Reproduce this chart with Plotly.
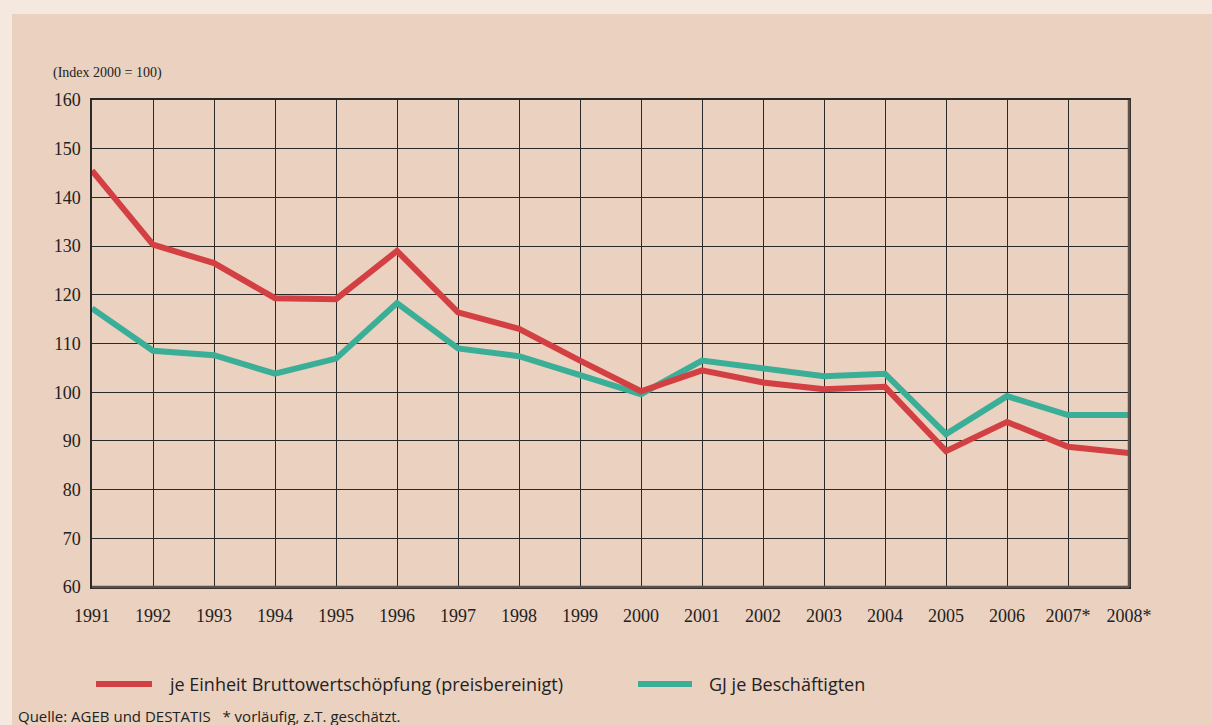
import plotly.graph_objects as go

years = ["1991", "1992", "1993", "1994", "1995", "1996", "1997", "1998", "1999",
         "2000", "2001", "2002", "2003", "2004", "2005", "2006", "2007", "2008"]
tick_labels = ["1991", "1992", "1993", "1994", "1995", "1996", "1997", "1998", "1999",
               "2000", "2001", "2002", "2003", "2004", "2005", "2006", "2007*", "2008*"]
x_vals = list(range(1991, 2009))
bws = [145.5, 130.3, 126.5, 119.3, 119.1, 129.0, 116.4, 113.0, 106.5,
       100.2, 104.5, 102.0, 100.6, 101.1, 87.9, 93.9, 88.8, 87.5]
gj = [117.2, 108.5, 107.6, 103.8, 106.9, 118.3, 109.0, 107.4, 103.5,
      99.6, 106.5, 104.8, 103.3, 103.8, 91.4, 99.2, 95.3, 95.3]
series_names = ["je Einheit Bruttowertschöpfung (preisbereinigt)", "GJ je Beschäftigten"]

RED = "#d34043"
GREEN = "#3aae96"
PANEL = "#ebd1bf"
OUTER = "#f5e8de"

W, H = 1212, 725
L, R, T, B = 92, 1129, 100, 587

def px(x):
    return (x - L) / (R - L)

def py(y):
    return (B - y) / (B - T)

fig = go.Figure()
fig.add_trace(go.Scatter(x=x_vals, y=gj, mode="lines", name=series_names[1],
                         line=dict(color=GREEN, width=6), showlegend=False))
fig.add_trace(go.Scatter(x=x_vals, y=bws, mode="lines", name=series_names[0],
                         line=dict(color=RED, width=6), showlegend=False))

shapes = [
    dict(type="rect", xref="paper", yref="paper", x0=px(-5), x1=px(W + 5), y0=py(14), y1=py(-5),
         fillcolor=OUTER, line=dict(width=0), layer="below"),
    dict(type="rect", xref="paper", yref="paper", x0=px(-5), x1=px(12), y0=py(H + 5), y1=py(-5),
         fillcolor=OUTER, line=dict(width=0), layer="below"),
    dict(type="line", xref="paper", yref="paper", x0=px(96), x1=px(152), y0=py(684), y1=py(684),
         line=dict(color=RED, width=6)),
    dict(type="line", xref="paper", yref="paper", x0=px(638), x1=px(692), y0=py(684), y1=py(684),
         line=dict(color=GREEN, width=6)),
    # heavier grey bottom and right frame edges
    dict(type="line", xref="paper", yref="paper", x0=0, x1=1, y0=0, y1=0,
         line=dict(color="#5f5049", width=2.5)),
    dict(type="line", xref="paper", yref="paper", x0=1, x1=1, y0=0, y1=1,
         line=dict(color="#5f5049", width=2.5)),
]

annotations = [
    dict(text="(Index 2000 = 100)", xref="paper", yref="paper", x=px(51), y=py(73),
         xanchor="left", yanchor="middle", showarrow=False,
         font=dict(family="Liberation Serif", size=14, color="#222")),
    dict(text=series_names[0], xref="paper", yref="paper", x=px(167), y=py(684),
         xanchor="left", yanchor="middle", showarrow=False,
         font=dict(family="Liberation Sans Narrow, Open Sans", size=18, color="#222")),
    dict(text=series_names[1], xref="paper", yref="paper", x=px(707), y=py(684),
         xanchor="left", yanchor="middle", showarrow=False,
         font=dict(family="Liberation Sans Narrow, Open Sans", size=18, color="#222")),
    dict(text="Quelle: AGEB und DESTATIS   * vorläufig, z.T. geschätzt.", xref="paper", yref="paper",
         x=px(16), y=py(716), xanchor="left", yanchor="middle", showarrow=False,
         font=dict(family="Liberation Sans Narrow, Open Sans", size=15, color="#222")),
]

fig.update_layout(
    width=W, height=H,
    margin=dict(l=L, r=W - R, t=T, b=H - B),
    paper_bgcolor=PANEL, plot_bgcolor=PANEL,
    shapes=shapes, annotations=annotations,
    showlegend=False,
    xaxis=dict(range=[1991, 2008], tickmode="array", tickvals=x_vals, ticktext=tick_labels,
               showgrid=True, gridcolor="#2a2a2a", gridwidth=1, zeroline=False,
               showline=True, linecolor="#2a2a2a", linewidth=1.5, mirror=True,
               ticks="", tickfont=dict(family="Liberation Serif", size=18, color="#222"),
               ticklabelstandoff=12),
    yaxis=dict(range=[60, 160], tickmode="array", tickvals=list(range(60, 161, 10)),
               showgrid=True, gridcolor="#2a2a2a", gridwidth=1, zeroline=False,
               showline=True, linecolor="#2a2a2a", linewidth=1.5, mirror=True,
               ticks="", tickfont=dict(family="Liberation Serif", size=18, color="#222"),
               ticklabelstandoff=6),
)

fig.write_html("out.html", config={"displayModeBar": False},
               post_script="document.body.style.margin='0';document.body.style.background='%s';" % OUTER)
